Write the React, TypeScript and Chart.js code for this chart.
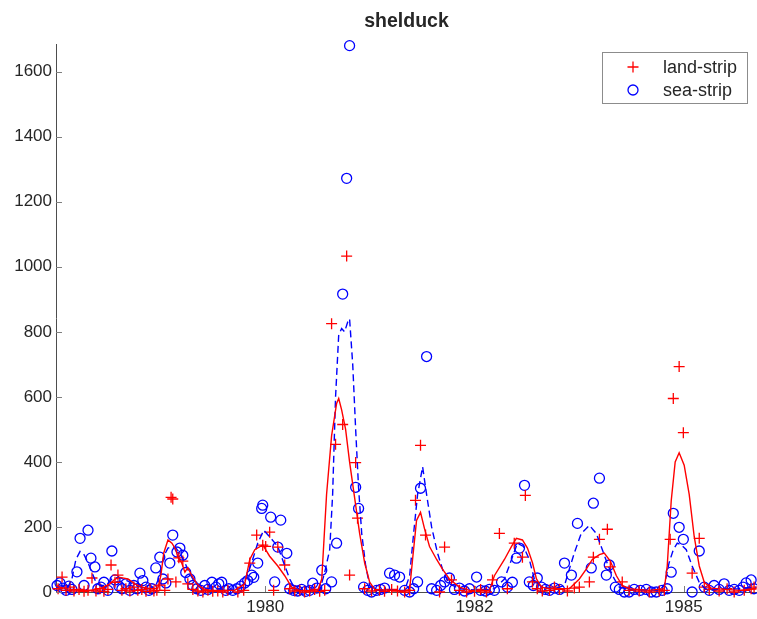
import React, { useEffect, useRef } from 'react';
import { Chart, registerables } from 'chart.js';

Chart.register(...registerables);

// ---- data (x = sample index, y = count) ----
const landX = [1, 2.9, 4.8, 6.7, 8.6, 11, 13.4, 15.3, 17.2, 19.1, 21, 22.9, 24.8, 26.3, 28.2, 29.6, 31.5, 33.4, 35.3, 37.2, 39.1, 41, 43, 44.9, 46.8, 48.2, 49.6, 52, 53.5, 55, 55.8, 57.3, 58.7, 60.6, 63, 65.4, 67.8, 70.2, 72.6, 74.9, 77.3, 79.7, 82.1,
  86.9, 89.7, 92.6, 95.9, 98.8, 100.2, 102.1, 104, 106, 109.3, 111.7, 114.1, 116.5, 118.8, 121.2, 123.6, 126, 128.4, 131.7, 133.6, 137, 138.9, 140.3, 143.2, 144.1, 147.5, 150.8, 154.6, 157, 160.4, 163.2, 166.6, 169, 171.8, 174.2, 176.6,
  183.3, 185.7, 189, 192.8, 196.2, 200, 202.9, 205.7, 208.6, 211.9, 215.7, 219, 222.9, 224.3, 227.7, 230, 232.4, 235.8, 238.2, 240.6, 244.4, 247.7,
  250.1, 254.9, 256.8, 259.7, 263.5, 264.9, 270.6, 273.9, 278.7, 283.5, 288.3, 290.7, 293.5, 295, 297.8, 299.8, 304, 307.4, 309.8, 312.2, 316.9, 320.7, 324.1, 328.9, 332.2, 333.6];
const landY = [10, 46, 5, 15, 3, 8, 2, 5, 43, 3, 10, 2, 8, 83, 30, 52, 5, 10, 3, 15, 5, 8, 2, 10, 3, 5, 21, 5, 40, 291, 286, 31, 105, 95, 25, 8, 3, 0, 5, 2, 3, 0, 5,
  0, 5, 89, 175, 144, 140, 184, 5, 138, 83, 10, 3, 5, 0, 3, 8, 2, 5, 825, 454, 515, 1033, 52, 398, 227, 10, 3, 5, 2, 8, 3, 0, 5, 282, 451, 175,
  0, 138, 37, 5, 0, 2, 8, 0, 37, 180, 10, 150, 107, 297, 31, 10, 3, 5, 15, 8, 3, 12,
  15, 31, 107, 162, 193, 77, 31, 5, 3, 0, 3, 5, 162, 595, 693, 490, 58, 165, 15, 8, 3, 10, 0, 5, 10, 15];

const seaX = [0.5, 1.9, 3.3, 4.8, 6.2, 7.6, 10, 11.5, 13.4, 15.3, 16.7, 18.6, 20, 21.5, 22.9, 24.8, 26.7, 28.2, 30.1, 31.5, 33.4, 35.3, 37.2, 38.7, 40.1, 41.5, 43, 44.4, 45.8, 47.7, 49.6, 51.1, 52.5, 54.4, 55.8, 57.8, 59.2, 60.6, 62, 64, 65.4, 67.3, 69.2, 71.1, 72.6, 74.5, 76.4, 77.8, 79.2, 81.1, 82.6,
  84.5, 86.4, 88.3, 90.2, 91.6, 93.5, 94.5, 96.4, 98.3, 98.8, 102.6, 104.5, 106, 107.4, 110.3, 111.7, 113.6, 115.5, 117.4, 119.3, 121.2, 122.7, 124.6, 127, 128.9, 131.7, 134.1, 137, 138.9, 140.3, 143.2, 144.6, 147, 148.9, 150.8, 153.2, 155.1, 157, 159.4, 161.8, 164.2, 166.6, 169, 170.9, 172.8, 174.2, 177.1,
  179.5, 181.9, 183.8, 185.7, 188, 190.4, 192.8, 195.2, 197.6, 201, 202.9, 205.2, 207.1, 209.5, 212.9, 215.7, 218.1, 220, 221.5, 223.9, 226.2, 228.1, 230, 232, 233.9, 235.8, 238.2, 240.6, 243, 246.3, 249.2,
  255.8, 256.8, 259.7, 263, 264.4, 267.3, 269.2, 271.6, 273.9, 276.3, 279.2, 282.1, 284.5, 286.9, 289.7, 292.1, 294, 295, 297.8, 299.8, 304, 307.4, 309.8, 312.2, 314.5, 316.9, 319.3, 321.7, 324.1, 326.5, 328.3, 329.8, 332.2, 333.6];
const seaY = [20, 28, 12, 5, 18, 8, 62, 165, 20, 190, 104, 77, 10, 15, 30, 5, 126, 37, 18, 10, 25, 5, 20, 10, 58, 35, 15, 5, 10, 74, 107, 40, 28, 89, 175, 123, 135, 113, 60, 40, 20, 10, 5, 20, 8, 30, 15, 25, 30, 5, 10,
  5, 10, 18, 28, 35, 52, 45, 89, 257, 267, 230, 31, 138, 221, 119, 10, 5, 3, 8, 2, 5, 27, 12, 67, 10, 31, 150, 916, 1272, 1680, 322, 257, 15, 5, 0, 5, 8, 12, 58, 52, 46, 5, 0, 10, 31, 319, 724,
  10, 5, 20, 31, 43, 8, 12, 3, 10, 46, 5, 3, 8, 5, 31, 15, 30, 104, 135, 328, 31, 20, 43, 15, 8, 5, 12, 8, 89, 52, 211,
  74, 273, 350, 52, 83, 15, 8, 0, 0, 8, 5, 8, 0, 0, 5, 10, 61, 242, 199, 162, 0, 126, 15, 5, 20, 8, 25, 5, 8, 5, 15, 28, 37, 10];

const landLineX = [0, 1.9, 6.7, 11.5, 16.2, 21, 25.8, 28.2, 30.5, 34.4, 37.7, 41, 44.9, 48.7, 50.1, 51.5, 53.5, 55.4, 57.3, 58.2, 60.1, 61.6, 63, 64.9, 67.3, 70.2, 73.5, 78.3, 85.4, 90.2, 92.6, 95, 98.8, 102.1, 106, 109.3, 112.6, 116.5, 125, 127, 129.3, 131.7, 134.1, 135.1, 136.5, 138.4, 140.3, 142.7, 145.1, 147.5, 149.9, 152.3, 159.4, 166.6, 169, 170.4, 172.3, 174.2, 176.1, 178.5, 181.9, 184.7, 188, 192.8, 197.6, 207.1, 209.5, 214.3, 217.7, 220, 222.9, 225.3, 227.7, 229.6, 232, 235.8, 245.3, 250.1, 253.4, 256.3, 259.7, 262, 264.9, 267.8, 270.6, 273.9, 283.5, 290.7, 292.1, 294, 295.9, 297.8, 300.2, 302.6, 305, 307.4, 309.8, 313.1, 319.3, 326.5, 334.6];
const landLineY = [20, 15, 8, 5, 5, 10, 25, 40, 45, 40, 25, 15, 10, 12, 50, 120, 160, 150, 130, 107, 89, 61, 75, 50, 25, 10, 5, 5, 5, 25, 100, 130, 145, 110, 80, 50, 15, 5, 3, 40, 300, 480, 580, 595, 560, 500, 400, 290, 180, 90, 30, 8, 5, 3, 8, 100, 220, 245, 195, 140, 100, 70, 40, 15, 5, 5, 50, 100, 140, 165, 160, 135, 90, 40, 15, 10, 10, 40, 70, 100, 115, 120, 95, 50, 20, 10, 5, 10, 80, 280, 400, 428, 390, 300, 170, 80, 30, 12, 8, 5, 10];

const seaLineX = [0, 2.9, 5.7, 7.6, 9.5, 11.5, 13.4, 15.3, 17.2, 19.1, 21, 23.9, 26.7, 29.6, 32.5, 35.3, 38.2, 41, 44.9, 47.7, 49.6, 51.5, 53.5, 55.4, 57.3, 59.2, 61.6, 64, 66.3, 68.7, 73.5, 83.1, 87.8, 90.7, 93.5, 96.4, 99.3, 102.1, 106, 108.8, 111.7, 114.1, 118.8, 126, 128.4, 130.8, 132.2, 133.6, 135.1, 136.5, 137.9, 139.4, 140.3, 141.8, 143.2, 144.6, 146.1, 148, 149.9, 152.3, 159.4, 166.6, 169, 170.9, 172.8, 175.2, 177.1, 179.5, 182.3, 185.2, 188, 192.8, 202.4, 209.5, 214.3, 217.7, 220.5, 223.4, 226.2, 228.6, 232, 238.2, 243, 245.3, 247.7, 251, 254.9, 258.2, 261.1, 263.9, 266.8, 269.2, 273.9, 288.3, 290.7, 293, 295, 296.9, 298.8, 301.2, 304, 307.4, 310.2, 316.9, 326.5, 334.6];
const seaLineY = [15, 20, 15, 40, 100, 125, 115, 90, 60, 30, 20, 20, 40, 45, 40, 30, 20, 15, 10, 20, 50, 110, 135, 140, 135, 120, 90, 55, 30, 15, 10, 8, 10, 40, 90, 150, 190, 170, 140, 90, 40, 10, 5, 5, 60, 130, 300, 600, 790, 810, 800, 830, 840, 700, 500, 320, 180, 80, 20, 8, 5, 5, 50, 180, 300, 385, 300, 200, 120, 60, 25, 10, 5, 10, 40, 100, 150, 140, 100, 40, 15, 10, 20, 70, 120, 180, 205, 180, 130, 80, 40, 15, 8, 5, 20, 90, 130, 150, 145, 130, 80, 30, 10, 8, 10, 15];

const xTickValues = [100, 200, 300];
const xTickLabels = ['1980', '1982', '1985'];
const yTickStep = 200;
const xMin = 0;
const xMax = 335;
const yMin = 0;
const yMax = 1685;

const titleText = 'shelduck';
const landLabel = 'land-strip';
const seaLabel = 'sea-strip';

const FONT = "'Liberation Sans', Arial, Helvetica, sans-serif";
const RED = '#ff0000';
const BLUE = '#0000ff';
const TEXT = '#262626';
const AXIS = '#4d4d4d';
const TICK = '#7f7f7f';

const toPts = (xs: number[], ys: number[]) => xs.map((x, i) => ({ x, y: ys[i] }));

const innerTicks = {
  id: 'innerTicks',
  afterDraw(chart: any) {
    const { ctx, chartArea, scales } = chart;
    ctx.save();
    ctx.strokeStyle = TICK;
    ctx.lineWidth = 1;
    const len = 6;
    scales.y.ticks.forEach((t: any) => {
      const y = Math.round(scales.y.getPixelForValue(t.value)) + 0.5;
      ctx.beginPath();
      ctx.moveTo(chartArea.left, y);
      ctx.lineTo(chartArea.left + len, y);
      ctx.stroke();
    });
    scales.x.ticks.forEach((t: any) => {
      const x = Math.round(scales.x.getPixelForValue(t.value)) + 0.5;
      ctx.beginPath();
      ctx.moveTo(x, chartArea.bottom);
      ctx.lineTo(x, chartArea.bottom - len);
      ctx.stroke();
    });
    ctx.restore();
  },
};

const boxLegend = {
  id: 'boxLegend',
  afterDraw(chart: any) {
    const { ctx, chartArea } = chart;
    const entries = chart.data.datasets.filter((d: any) => d.showInLegend);
    const w = 145;
    const rowH = 23;
    const h = 51;
    const left = chartArea.right - 10 - w;
    const top = chartArea.top + 8;
    ctx.save();
    ctx.fillStyle = '#ffffff';
    ctx.fillRect(left + 0.5, top + 0.5, w, h);
    ctx.strokeStyle = '#8c8c8c';
    ctx.lineWidth = 1;
    ctx.strokeRect(left + 0.5, top + 0.5, w, h);
    ctx.font = `18px ${FONT}`;
    ctx.textBaseline = 'middle';
    ctx.textAlign = 'left';
    entries.forEach((d: any, i: number) => {
      const cy = top + 15 + i * rowH;
      const mx = left + 31;
      ctx.strokeStyle = d.borderColor;
      ctx.lineWidth = d.borderWidth;
      ctx.beginPath();
      if (d.pointStyle === 'cross') {
        const r = d.pointRadius;
        ctx.moveTo(mx - r, cy);
        ctx.lineTo(mx + r, cy);
        ctx.moveTo(mx, cy - r);
        ctx.lineTo(mx, cy + r);
      } else {
        ctx.arc(mx, cy, d.pointRadius, 0, Math.PI * 2);
      }
      ctx.stroke();
      ctx.fillStyle = TEXT;
      ctx.fillText(d.label, left + 61, cy + 1);
    });
    ctx.restore();
  },
};

export default function App() {
  const ref = useRef<HTMLCanvasElement | null>(null);

  useEffect(() => {
    if (!ref.current) return;
    const chart = new Chart(ref.current, {
      type: 'scatter',
      data: {
        datasets: [
          {
            type: 'line',
            label: landLabel + ' smooth',
            data: toPts(landLineX, landLineY),
            borderColor: RED,
            borderWidth: 1.4,
            pointRadius: 0,
            fill: false,
            tension: 0,
            clip: false,
          } as any,
          {
            type: 'line',
            label: seaLabel + ' smooth',
            data: toPts(seaLineX, seaLineY),
            borderColor: BLUE,
            borderWidth: 1.4,
            borderDash: [7, 4],
            pointRadius: 0,
            fill: false,
            tension: 0,
            clip: false,
          } as any,
          {
            label: landLabel,
            data: toPts(landX, landY),
            showLine: false,
            pointStyle: 'cross',
            pointRadius: 5.5,
            borderColor: RED,
            backgroundColor: RED,
            borderWidth: 1.3,
            clip: false,
            showInLegend: true,
          } as any,
          {
            label: seaLabel,
            data: toPts(seaX, seaY),
            showLine: false,
            pointStyle: 'circle',
            pointRadius: 5,
            borderColor: BLUE,
            backgroundColor: 'rgba(0,0,0,0)',
            borderWidth: 1.3,
            clip: false,
            showInLegend: true,
          } as any,
        ],
      },
      options: {
        animation: false,
        responsive: false,
        events: [],
        layout: { padding: 0, autoPadding: false },
        plugins: {
          legend: { display: false },
          tooltip: { enabled: false },
          title: {
            display: true,
            fullSize: false,
            text: titleText,
            color: TEXT,
            font: { family: FONT, size: 19.5, weight: 'bold', lineHeight: 1.2 },
            padding: { top: 10, bottom: 10.6 },
          },
        },
        scales: {
          x: {
            type: 'linear',
            min: xMin,
            max: xMax,
            grid: { display: false, drawTicks: false },
            border: { display: true, color: AXIS, width: 1 },
            afterBuildTicks: (scale: any) => {
              scale.ticks = xTickValues.map((v) => ({ value: v }));
            },
            afterFit: (scale: any) => {
              scale.height = 27;
              scale.paddingLeft = 0;
              scale.paddingRight = 0;
            },
            ticks: {
              autoSkip: false,
              maxRotation: 0,
              padding: 5,
              color: TEXT,
              font: { family: FONT, size: 17 },
              callback: (v: any) => {
                const i = xTickValues.indexOf(Number(v));
                return i >= 0 ? xTickLabels[i] : '';
              },
            },
          },
          y: {
            type: 'linear',
            min: yMin,
            max: yMax,
            grid: { display: false, drawTicks: false },
            border: { display: true, color: AXIS, width: 1 },
            afterBuildTicks: (scale: any) => {
              scale.ticks = scale.ticks.filter((t: any) => t.value % yTickStep === 0);
            },
            afterFit: (scale: any) => {
              scale.width = 56;
              scale.paddingTop = 0;
              scale.paddingBottom = 0;
            },
            ticks: {
              stepSize: yTickStep,
              padding: 4,
              color: TEXT,
              font: { family: FONT, size: 17 },
              callback: (v: any) => String(v),
            },
          },
        },
      } as any,
      plugins: [innerTicks, boxLegend],
    });
    return () => chart.destroy();
  }, []);

  return (
    <div style={{ position: 'fixed', left: 0, top: 0, width: 757, height: 619, background: '#fff' }}>
      <canvas ref={ref} width={757} height={619} style={{ display: 'block', width: 757, height: 619 }} />
    </div>
  );
}
